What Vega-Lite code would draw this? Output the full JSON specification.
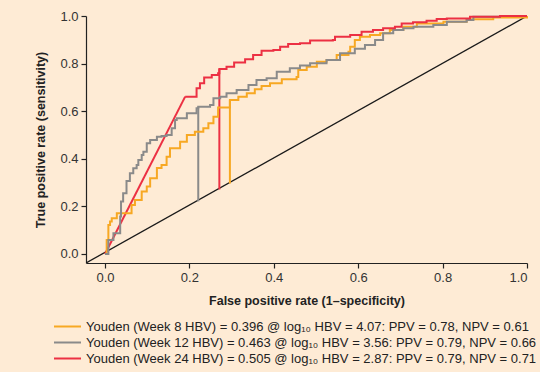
{
  "$schema": "https://vega.github.io/schema/vega-lite/v6.json",
  "width": 441,
  "height": 247,
  "autosize": {"type": "none"},
  "padding": {"left": 86, "top": 16, "right": 13, "bottom": 109},
  "background": "#FEEBD5",
  "config": {
    "view": {"stroke": null},
    "font": "Liberation Sans",
    "axis": {
      "grid": false,
      "domainColor": "#222222",
      "tickColor": "#222222",
      "domainWidth": 1.2,
      "tickWidth": 1.2,
      "tickSize": 5,
      "labelColor": "#333333",
      "labelFontSize": 13,
      "labelPadding": 3,
      "titleFontSize": 12.5,
      "titleFontWeight": "bold",
      "titleColor": "#222222"
    },
    "legend": {
      "orient": "none",
      "legendX": -27,
      "legendY": 302,
      "padding": 0,
      "symbolType": "M-1.8,0H1.8",
      "symbolStrokeWidth": 2,
      "symbolSize": 225,
      "labelFontSize": 13,
      "labelOffset": 10,
      "labelColor": "#222222",
      "labelLimit": 600,
      "rowPadding": 0,
      "title": null
    }
  },
  "datasets": {
    "diag": [
      {"x": -0.045, "y": -0.038},
      {"x": 1, "y": 1}
    ],
    "youden": [
      {"series": "w8", "x": 0.296, "y": 0.647, "y2": 0.296},
      {"series": "w12", "x": 0.221, "y": 0.619, "y2": 0.221},
      {"series": "w24", "x": 0.271, "y": 0.777, "y2": 0.271}
    ],
    "curves": [
      {"series": "w8", "seg": "step", "x": 0, "y": 0},
      {"series": "w8", "seg": "step", "x": 0.004, "y": 0.059},
      {"series": "w8", "seg": "step", "x": 0.008, "y": 0.122},
      {"series": "w8", "seg": "step", "x": 0.012, "y": 0.136},
      {"series": "w8", "seg": "step", "x": 0.016, "y": 0.15},
      {"series": "w8", "seg": "step", "x": 0.028, "y": 0.171},
      {"series": "w8", "seg": "step", "x": 0.055, "y": 0.171},
      {"series": "w8", "seg": "step", "x": 0.063, "y": 0.206},
      {"series": "w8", "seg": "step", "x": 0.071, "y": 0.227},
      {"series": "w8", "seg": "step", "x": 0.087, "y": 0.262},
      {"series": "w8", "seg": "step", "x": 0.099, "y": 0.283},
      {"series": "w8", "seg": "step", "x": 0.107, "y": 0.318},
      {"series": "w8", "seg": "step", "x": 0.123, "y": 0.361},
      {"series": "w8", "seg": "step", "x": 0.134, "y": 0.374},
      {"series": "w8", "seg": "step", "x": 0.146, "y": 0.409},
      {"series": "w8", "seg": "step", "x": 0.154, "y": 0.444},
      {"series": "w8", "seg": "step", "x": 0.178, "y": 0.472},
      {"series": "w8", "seg": "step", "x": 0.194, "y": 0.5},
      {"series": "w8", "seg": "step", "x": 0.213, "y": 0.514},
      {"series": "w8", "seg": "step", "x": 0.233, "y": 0.528},
      {"series": "w8", "seg": "step", "x": 0.245, "y": 0.549},
      {"series": "w8", "seg": "step", "x": 0.257, "y": 0.577},
      {"series": "w8", "seg": "step", "x": 0.268, "y": 0.616},
      {"series": "w8", "seg": "step", "x": 0.288, "y": 0.616},
      {"series": "w8", "seg": "step", "x": 0.296, "y": 0.647},
      {"series": "w8", "seg": "step", "x": 0.316, "y": 0.661},
      {"series": "w8", "seg": "step", "x": 0.336, "y": 0.675},
      {"series": "w8", "seg": "step", "x": 0.355, "y": 0.692},
      {"series": "w8", "seg": "step", "x": 0.371, "y": 0.706},
      {"series": "w8", "seg": "step", "x": 0.391, "y": 0.717},
      {"series": "w8", "seg": "step", "x": 0.419, "y": 0.734},
      {"series": "w8", "seg": "step", "x": 0.454, "y": 0.744},
      {"series": "w8", "seg": "step", "x": 0.458, "y": 0.773},
      {"series": "w8", "seg": "step", "x": 0.478, "y": 0.787},
      {"series": "w8", "seg": "step", "x": 0.502, "y": 0.808},
      {"series": "w8", "seg": "step", "x": 0.525, "y": 0.815},
      {"series": "w8", "seg": "step", "x": 0.549, "y": 0.836},
      {"series": "w8", "seg": "step", "x": 0.577, "y": 0.85},
      {"series": "w8", "seg": "step", "x": 0.581, "y": 0.871},
      {"series": "w8", "seg": "step", "x": 0.592, "y": 0.899},
      {"series": "w8", "seg": "step", "x": 0.604, "y": 0.913},
      {"series": "w8", "seg": "step", "x": 0.628, "y": 0.92},
      {"series": "w8", "seg": "step", "x": 0.652, "y": 0.927},
      {"series": "w8", "seg": "step", "x": 0.675, "y": 0.941},
      {"series": "w8", "seg": "step", "x": 0.707, "y": 0.955},
      {"series": "w8", "seg": "step", "x": 0.739, "y": 0.969},
      {"series": "w8", "seg": "step", "x": 0.802, "y": 0.976},
      {"series": "w8", "seg": "step", "x": 0.857, "y": 0.986},
      {"series": "w8", "seg": "step", "x": 0.92, "y": 0.994},
      {"series": "w8", "seg": "step", "x": 1, "y": 1},

      {"series": "w12", "seg": "step", "x": 0, "y": 0},
      {"series": "w12", "seg": "step", "x": 0.008, "y": 0.059},
      {"series": "w12", "seg": "step", "x": 0.02, "y": 0.087},
      {"series": "w12", "seg": "step", "x": 0.036, "y": 0.157},
      {"series": "w12", "seg": "step", "x": 0.038, "y": 0.22},
      {"series": "w12", "seg": "step", "x": 0.043, "y": 0.255},
      {"series": "w12", "seg": "step", "x": 0.051, "y": 0.307},
      {"series": "w12", "seg": "step", "x": 0.059, "y": 0.339},
      {"series": "w12", "seg": "step", "x": 0.067, "y": 0.36},
      {"series": "w12", "seg": "step", "x": 0.075, "y": 0.374},
      {"series": "w12", "seg": "step", "x": 0.079, "y": 0.395},
      {"series": "w12", "seg": "step", "x": 0.087, "y": 0.416},
      {"series": "w12", "seg": "step", "x": 0.091, "y": 0.429},
      {"series": "w12", "seg": "step", "x": 0.099, "y": 0.465},
      {"series": "w12", "seg": "step", "x": 0.107, "y": 0.479},
      {"series": "w12", "seg": "step", "x": 0.123, "y": 0.493},
      {"series": "w12", "seg": "step", "x": 0.134, "y": 0.496},
      {"series": "w12", "seg": "step", "x": 0.146, "y": 0.5},
      {"series": "w12", "seg": "step", "x": 0.158, "y": 0.528},
      {"series": "w12", "seg": "step", "x": 0.166, "y": 0.563},
      {"series": "w12", "seg": "step", "x": 0.17, "y": 0.57},
      {"series": "w12", "seg": "step", "x": 0.194, "y": 0.591},
      {"series": "w12", "seg": "step", "x": 0.217, "y": 0.612},
      {"series": "w12", "seg": "step", "x": 0.221, "y": 0.619},
      {"series": "w12", "seg": "step", "x": 0.249, "y": 0.626},
      {"series": "w12", "seg": "step", "x": 0.257, "y": 0.654},
      {"series": "w12", "seg": "step", "x": 0.273, "y": 0.661},
      {"series": "w12", "seg": "step", "x": 0.288, "y": 0.675},
      {"series": "w12", "seg": "step", "x": 0.312, "y": 0.689},
      {"series": "w12", "seg": "step", "x": 0.34, "y": 0.71},
      {"series": "w12", "seg": "step", "x": 0.359, "y": 0.731},
      {"series": "w12", "seg": "step", "x": 0.383, "y": 0.738},
      {"series": "w12", "seg": "step", "x": 0.407, "y": 0.766},
      {"series": "w12", "seg": "step", "x": 0.438, "y": 0.78},
      {"series": "w12", "seg": "step", "x": 0.462, "y": 0.792},
      {"series": "w12", "seg": "step", "x": 0.486, "y": 0.801},
      {"series": "w12", "seg": "step", "x": 0.525, "y": 0.815},
      {"series": "w12", "seg": "step", "x": 0.557, "y": 0.843},
      {"series": "w12", "seg": "step", "x": 0.592, "y": 0.862},
      {"series": "w12", "seg": "step", "x": 0.616, "y": 0.878},
      {"series": "w12", "seg": "step", "x": 0.64, "y": 0.899},
      {"series": "w12", "seg": "step", "x": 0.659, "y": 0.927},
      {"series": "w12", "seg": "step", "x": 0.683, "y": 0.941},
      {"series": "w12", "seg": "step", "x": 0.707, "y": 0.948},
      {"series": "w12", "seg": "step", "x": 0.731, "y": 0.955},
      {"series": "w12", "seg": "step", "x": 0.778, "y": 0.962},
      {"series": "w12", "seg": "step", "x": 0.81, "y": 0.976},
      {"series": "w12", "seg": "step", "x": 0.857, "y": 0.983},
      {"series": "w12", "seg": "step", "x": 0.873, "y": 0.997},
      {"series": "w12", "seg": "step", "x": 0.936, "y": 1.0},
      {"series": "w12", "seg": "step", "x": 1, "y": 1},

      {"series": "w24", "seg": "diag", "x": 0, "y": 0},
      {"series": "w24", "seg": "diag", "x": 0.19, "y": 0.661},
      {"series": "w24", "seg": "step", "x": 0.19, "y": 0.661},
      {"series": "w24", "seg": "step", "x": 0.217, "y": 0.696},
      {"series": "w24", "seg": "step", "x": 0.225, "y": 0.717},
      {"series": "w24", "seg": "step", "x": 0.235, "y": 0.742},
      {"series": "w24", "seg": "step", "x": 0.253, "y": 0.752},
      {"series": "w24", "seg": "step", "x": 0.268, "y": 0.759},
      {"series": "w24", "seg": "step", "x": 0.271, "y": 0.777},
      {"series": "w24", "seg": "step", "x": 0.288, "y": 0.787},
      {"series": "w24", "seg": "step", "x": 0.306, "y": 0.805},
      {"series": "w24", "seg": "step", "x": 0.332, "y": 0.818},
      {"series": "w24", "seg": "step", "x": 0.351, "y": 0.836},
      {"series": "w24", "seg": "step", "x": 0.371, "y": 0.854},
      {"series": "w24", "seg": "step", "x": 0.399, "y": 0.857},
      {"series": "w24", "seg": "step", "x": 0.415, "y": 0.871},
      {"series": "w24", "seg": "step", "x": 0.434, "y": 0.882},
      {"series": "w24", "seg": "step", "x": 0.462, "y": 0.885},
      {"series": "w24", "seg": "step", "x": 0.486, "y": 0.897},
      {"series": "w24", "seg": "step", "x": 0.54, "y": 0.899},
      {"series": "w24", "seg": "step", "x": 0.545, "y": 0.913},
      {"series": "w24", "seg": "step", "x": 0.581, "y": 0.92},
      {"series": "w24", "seg": "step", "x": 0.608, "y": 0.934},
      {"series": "w24", "seg": "step", "x": 0.635, "y": 0.941},
      {"series": "w24", "seg": "step", "x": 0.659, "y": 0.948},
      {"series": "w24", "seg": "step", "x": 0.687, "y": 0.955},
      {"series": "w24", "seg": "step", "x": 0.703, "y": 0.969},
      {"series": "w24", "seg": "step", "x": 0.73, "y": 0.974},
      {"series": "w24", "seg": "step", "x": 0.762, "y": 0.98},
      {"series": "w24", "seg": "step", "x": 0.786, "y": 0.987},
      {"series": "w24", "seg": "step", "x": 0.81, "y": 0.99},
      {"series": "w24", "seg": "step", "x": 0.865, "y": 0.997},
      {"series": "w24", "seg": "step", "x": 0.936, "y": 1.0},
      {"series": "w24", "seg": "step", "x": 1, "y": 1}
    ]
  },
  "encoding": {
    "x": {
      "field": "x",
      "type": "quantitative",
      "scale": {"domain": [-0.045, 1], "nice": false, "zero": false},
      "axis": {"values": [0, 0.2, 0.4, 0.6, 0.8, 1], "format": ".1f", "title": "False positive rate (1–specificity)", "titlePadding": 10}
    },
    "y": {
      "field": "y",
      "type": "quantitative",
      "scale": {"domain": [-0.038, 1], "nice": false, "zero": false},
      "axis": {"values": [0, 0.2, 0.4, 0.6, 0.8, 1], "format": ".1f", "title": "True positive rate (sensitivity)", "titlePadding": 12}
    }
  },
  "layer": [
    {
      "data": {"name": "diag"},
      "mark": {"type": "line", "color": "#1a1a1a", "strokeWidth": 1.3, "clip": true}
    },
    {
      "data": {"name": "youden"},
      "mark": {"type": "rule", "strokeWidth": 2},
      "encoding": {
        "y2": {"field": "y2"},
        "color": {
          "field": "series",
          "type": "nominal",
          "scale": {"domain": ["w8", "w12", "w24"], "range": ["#F7A823", "#8A8A8A", "#EC3043"]},
          "legend": {
            "labelExpr": "datum.value == 'w8' ? 'Youden (Week 8 HBV) = 0.396 @ log₁₀ HBV = 4.07: PPV = 0.78, NPV = 0.61' : datum.value == 'w12' ? 'Youden (Week 12 HBV) = 0.463 @ log₁₀ HBV = 3.56: PPV = 0.79, NPV = 0.66' : 'Youden (Week 24 HBV) = 0.505 @ log₁₀ HBV = 2.87: PPV = 0.79, NPV = 0.71'"
          }
        }
      }
    },
    {
      "data": {"name": "curves"},
      "transform": [{"filter": "datum.seg == 'diag'"}],
      "mark": {"type": "line", "strokeWidth": 2},
      "encoding": {
        "color": {
          "field": "series",
          "type": "nominal",
          "scale": {"domain": ["w8", "w12", "w24"], "range": ["#F7A823", "#8A8A8A", "#EC3043"]},
          "legend": {
            "labelExpr": "datum.value == 'w8' ? 'Youden (Week 8 HBV) = 0.396 @ log₁₀ HBV = 4.07: PPV = 0.78, NPV = 0.61' : datum.value == 'w12' ? 'Youden (Week 12 HBV) = 0.463 @ log₁₀ HBV = 3.56: PPV = 0.79, NPV = 0.66' : 'Youden (Week 24 HBV) = 0.505 @ log₁₀ HBV = 2.87: PPV = 0.79, NPV = 0.71'"
          }
        }
      }
    },
    {
      "data": {"name": "curves"},
      "transform": [{"filter": "datum.seg == 'step'"}],
      "mark": {"type": "line", "strokeWidth": 2, "interpolate": "step-after"},
      "encoding": {
        "color": {
          "field": "series",
          "type": "nominal",
          "scale": {"domain": ["w8", "w12", "w24"], "range": ["#F7A823", "#8A8A8A", "#EC3043"]},
          "legend": {
            "labelExpr": "datum.value == 'w8' ? 'Youden (Week 8 HBV) = 0.396 @ log₁₀ HBV = 4.07: PPV = 0.78, NPV = 0.61' : datum.value == 'w12' ? 'Youden (Week 12 HBV) = 0.463 @ log₁₀ HBV = 3.56: PPV = 0.79, NPV = 0.66' : 'Youden (Week 24 HBV) = 0.505 @ log₁₀ HBV = 2.87: PPV = 0.79, NPV = 0.71'"
          }
        }
      }
    }
  ]
}
